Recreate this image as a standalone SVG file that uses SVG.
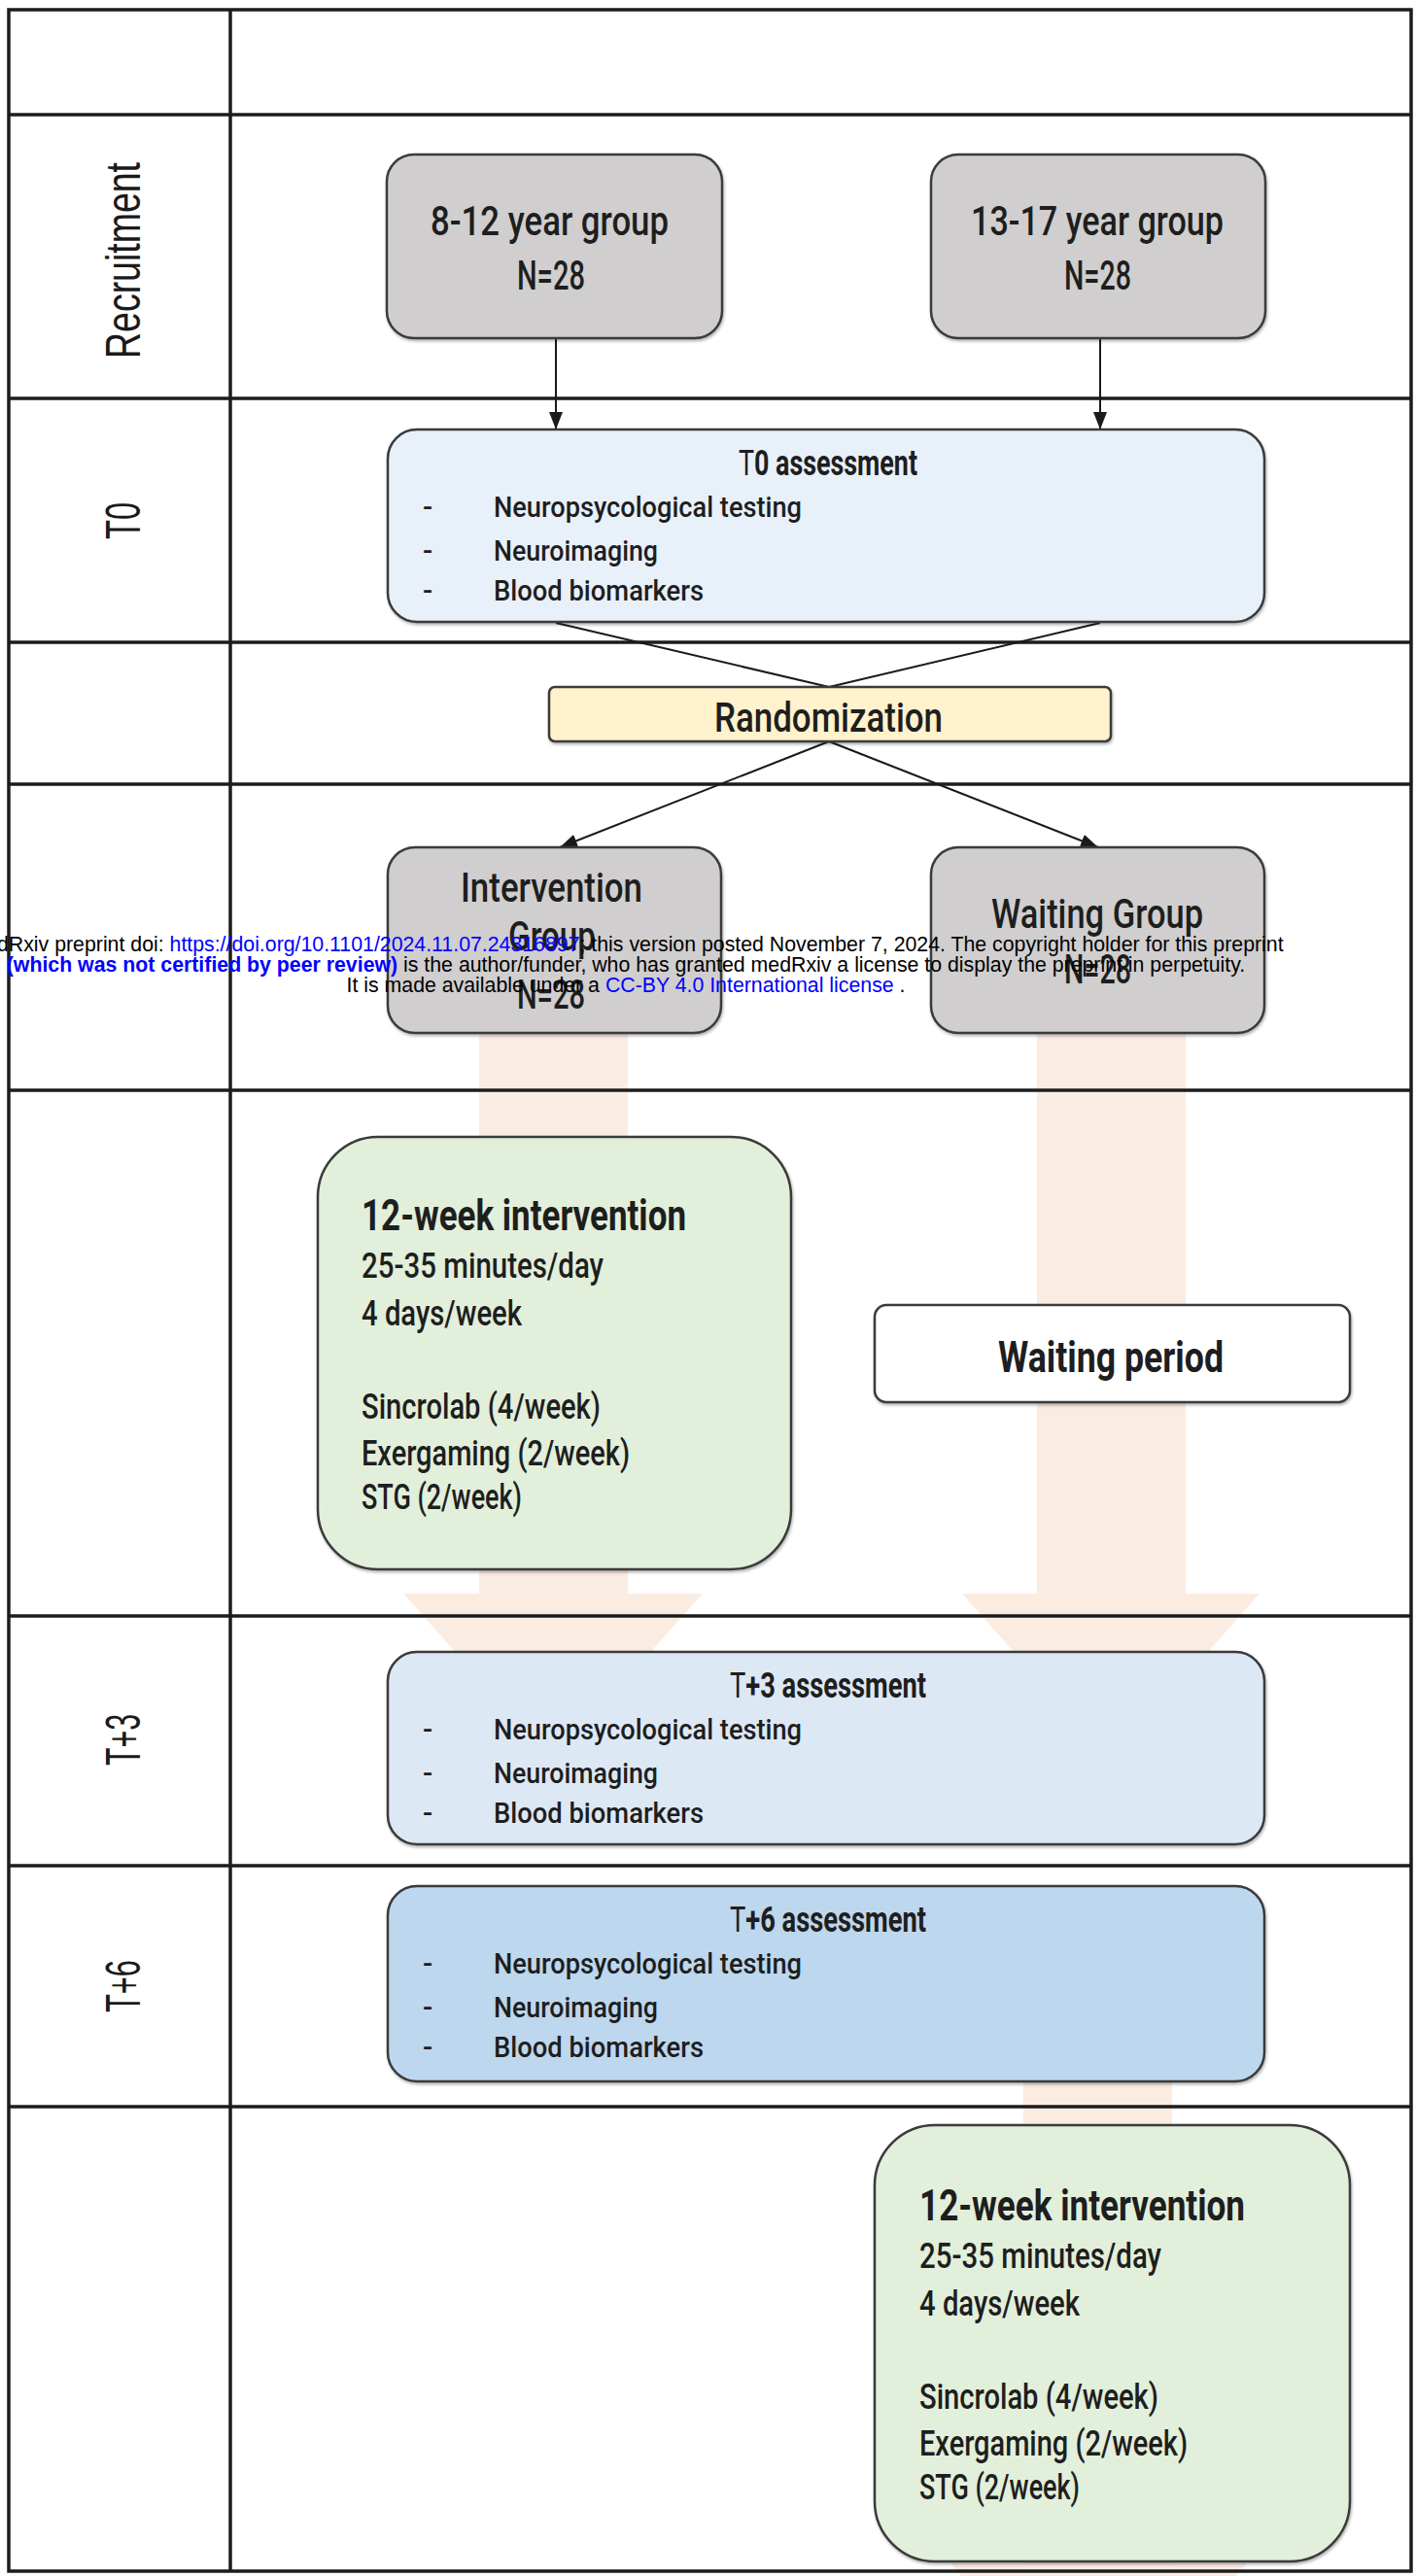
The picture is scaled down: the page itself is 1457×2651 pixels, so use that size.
<svg xmlns="http://www.w3.org/2000/svg" width="1457" height="2651" viewBox="0 0 1457 2651">
<style>
.box{stroke:#3a3a3a;stroke-width:2.5;filter:url(#sh)}
.gray{fill:#d0cece}
.t0{fill:#e8f0f9}
.t3{fill:#dde8f5}
.t6{fill:#bdd7ee}
.green{fill:#e2efda}
.yellow{fill:#fff2cc}
.white{fill:#ffffff}
.grid{stroke:#1c1c1c;stroke-width:3.5;fill:none}
.conn{stroke:#1a1a1a;stroke-width:2;fill:none}
.peach{fill:#fbece2}
text{font-family:Roboto,"Liberation Sans",sans-serif;fill:#1e1e1e;font-weight:500}
.lane{font-family:"Liberation Sans Narrow","Liberation Sans",Arial,sans-serif;font-size:50px;fill:#1a1a1a;font-weight:normal}
.g42{font-size:42px}
.tt{font-size:36px;font-weight:bold}
.bl{font-size:30px}
.gt{font-size:44px;font-weight:bold}
.gl{font-size:36px}
.wm{font-family:"Liberation Sans",Arial,sans-serif;font-size:21.3px;fill:#000000;font-weight:normal}
.lnk{fill:#0000ff}
</style>
<defs>
<filter id="sh" x="-5%" y="-5%" width="110%" height="115%">
<feDropShadow dx="1" dy="2" stdDeviation="1.5" flood-color="#000000" flood-opacity="0.3"/>
</filter>
<marker id="arr" viewBox="0 0 18 14" refX="18" refY="7" markerWidth="18" markerHeight="14" markerUnits="userSpaceOnUse" orient="auto">
<path d="M0,0 L18,7 L0,14 z" fill="#1a1a1a"/>
</marker>
</defs>
<rect x="0" y="0" width="1457" height="2651" fill="#ffffff"/>

<g id="flow-arrows">
<polygon class="peach" points="493,1000 646,1000 646,1640 723,1640 569,1813 415,1640 493,1640"/>
<polygon class="peach" points="1067,1000 1220,1000 1220,1640 1296,1640 1143,1813 990,1640 1067,1640"/>
<polygon class="peach" points="1053,2100 1206,2100 1206,2638 1283,2638 1130,2811 978,2638 1053,2638"/>
</g>

<g id="grid">
<rect class="grid" x="9" y="10" width="1443" height="2636" stroke-width="7"/>
<line class="grid" x1="237" y1="10" x2="237" y2="2646" stroke-width="6"/>
<line class="grid" x1="9" y1="118" x2="1452" y2="118"/>
<line class="grid" x1="9" y1="410" x2="1452" y2="410"/>
<line class="grid" x1="9" y1="661" x2="1452" y2="661"/>
<line class="grid" x1="9" y1="807" x2="1452" y2="807"/>
<line class="grid" x1="9" y1="1122" x2="1452" y2="1122"/>
<line class="grid" x1="9" y1="1663" x2="1452" y2="1663"/>
<line class="grid" x1="9" y1="1920" x2="1452" y2="1920"/>
<line class="grid" x1="9" y1="2168" x2="1452" y2="2168"/>
</g>

<g id="lane-labels">
<text class="lane" transform="translate(144,268) rotate(-90)" x="-101" y="0" textLength="202" lengthAdjust="spacingAndGlyphs">Recruitment</text>
<text class="lane" transform="translate(144,536) rotate(-90)" x="-19" y="0" textLength="38" lengthAdjust="spacingAndGlyphs">T0</text>
<text class="lane" transform="translate(144,1791) rotate(-90)" x="-26" y="0" textLength="53" lengthAdjust="spacingAndGlyphs">T+3</text>
<text class="lane" transform="translate(144,2044) rotate(-90)" x="-27" y="0" textLength="54" lengthAdjust="spacingAndGlyphs">T+6</text>
</g>

<g id="connectors">
<line class="conn" x1="572" y1="348" x2="572" y2="442" marker-end="url(#arr)"/>
<line class="conn" x1="1132" y1="348" x2="1132" y2="442" marker-end="url(#arr)"/>
<line class="conn" x1="572" y1="641" x2="853" y2="707"/>
<line class="conn" x1="1132" y1="641" x2="853" y2="707"/>
<line class="conn" x1="853" y1="763" x2="576" y2="872" marker-end="url(#arr)"/>
<line class="conn" x1="853" y1="763" x2="1130" y2="872" marker-end="url(#arr)"/>
</g>

<g id="group-8-12">
<rect class="box gray" x="398" y="159" width="345" height="189" rx="28"/>
<text class="g42" x="443" y="242" textLength="245" lengthAdjust="spacingAndGlyphs">8-12 year group</text>
<text class="g42" x="532" y="298" textLength="70" lengthAdjust="spacingAndGlyphs">N=28</text>
</g>

<g id="group-13-17">
<rect class="box gray" x="958" y="159" width="344" height="189" rx="28"/>
<text class="g42" x="999" y="242" textLength="260" lengthAdjust="spacingAndGlyphs">13-17 year group</text>
<text class="g42" x="1095" y="298" textLength="69" lengthAdjust="spacingAndGlyphs">N=28</text>
</g>

<g id="t0-assessment">
<rect class="box t0" x="399" y="442" width="902" height="198" rx="30"/>
<text class="tt" x="760" y="489" textLength="184" lengthAdjust="spacingAndGlyphs"><tspan font-weight="normal">T</tspan>0 assessment</text>
<text class="bl" x="435" y="532">-</text>
<text class="bl" x="435" y="577">-</text>
<text class="bl" x="435" y="618">-</text>
<text class="bl" x="508" y="532" textLength="317" lengthAdjust="spacingAndGlyphs">Neuropsycological testing</text>
<text class="bl" x="508" y="577" textLength="169" lengthAdjust="spacingAndGlyphs">Neuroimaging</text>
<text class="bl" x="508" y="618" textLength="216" lengthAdjust="spacingAndGlyphs">Blood biomarkers</text>
</g>

<g id="randomization">
<rect class="box yellow" x="565" y="707" width="578" height="56" rx="6"/>
<text class="g42" x="735" y="753" textLength="235" lengthAdjust="spacingAndGlyphs">Randomization</text>
</g>

<g id="intervention-group">
<rect class="box gray" x="399" y="872" width="343" height="191" rx="28"/>
<text class="g42" x="474" y="928" textLength="187" lengthAdjust="spacingAndGlyphs">Intervention</text>
<text class="g42" x="523" y="978" textLength="90" lengthAdjust="spacingAndGlyphs">Group</text>
<text class="g42" x="532" y="1038" textLength="70" lengthAdjust="spacingAndGlyphs">N=28</text>
</g>

<g id="waiting-group">
<rect class="box gray" x="958" y="872" width="343" height="191" rx="28"/>
<text class="g42" x="1020" y="955" textLength="218" lengthAdjust="spacingAndGlyphs">Waiting Group</text>
<text class="g42" x="1095" y="1012" textLength="69" lengthAdjust="spacingAndGlyphs">N=28</text>
</g>

<g id="intervention-12w-a">
<rect class="box green" x="327" y="1170" width="487" height="445" rx="62"/>
<text class="gt" x="372" y="1266" textLength="334" lengthAdjust="spacingAndGlyphs">12-week intervention</text>
<text class="gl" x="372" y="1315" textLength="249" lengthAdjust="spacingAndGlyphs">25-35 minutes/day</text>
<text class="gl" x="372" y="1364" textLength="165" lengthAdjust="spacingAndGlyphs">4 days/week</text>
<text class="gl" x="372" y="1460" textLength="246" lengthAdjust="spacingAndGlyphs">Sincrolab (4/week)</text>
<text class="gl" x="372" y="1508" textLength="276" lengthAdjust="spacingAndGlyphs">Exergaming (2/week)</text>
<text class="gl" x="372" y="1553" textLength="165" lengthAdjust="spacingAndGlyphs">STG (2/week)</text>
</g>

<g id="waiting-period">
<rect class="box white" x="900" y="1343" width="489" height="100" rx="12"/>
<text class="gt" x="1027" y="1412" textLength="232" lengthAdjust="spacingAndGlyphs">Waiting period</text>
</g>

<g id="t3-assessment">
<rect class="box t3" x="399" y="1700" width="902" height="198" rx="30"/>
<text class="tt" x="751" y="1747" textLength="202" lengthAdjust="spacingAndGlyphs"><tspan font-weight="normal">T</tspan>+3 assessment</text>
<text class="bl" x="435" y="1790">-</text>
<text class="bl" x="435" y="1835">-</text>
<text class="bl" x="435" y="1876">-</text>
<text class="bl" x="508" y="1790" textLength="317" lengthAdjust="spacingAndGlyphs">Neuropsycological testing</text>
<text class="bl" x="508" y="1835" textLength="169" lengthAdjust="spacingAndGlyphs">Neuroimaging</text>
<text class="bl" x="508" y="1876" textLength="216" lengthAdjust="spacingAndGlyphs">Blood biomarkers</text>
</g>

<g id="t6-assessment">
<rect class="box t6" x="399" y="1941" width="902" height="201" rx="30"/>
<text class="tt" x="751" y="1988" textLength="202" lengthAdjust="spacingAndGlyphs"><tspan font-weight="normal">T</tspan>+6 assessment</text>
<text class="bl" x="435" y="2031">-</text>
<text class="bl" x="435" y="2076">-</text>
<text class="bl" x="435" y="2117">-</text>
<text class="bl" x="508" y="2031" textLength="317" lengthAdjust="spacingAndGlyphs">Neuropsycological testing</text>
<text class="bl" x="508" y="2076" textLength="169" lengthAdjust="spacingAndGlyphs">Neuroimaging</text>
<text class="bl" x="508" y="2117" textLength="216" lengthAdjust="spacingAndGlyphs">Blood biomarkers</text>
</g>

<g id="intervention-12w-b">
<rect class="box green" x="900" y="2187" width="489" height="449" rx="62"/>
<text class="gt" x="946" y="2285" textLength="335" lengthAdjust="spacingAndGlyphs">12-week intervention</text>
<text class="gl" x="946" y="2334" textLength="249" lengthAdjust="spacingAndGlyphs">25-35 minutes/day</text>
<text class="gl" x="946" y="2383" textLength="165" lengthAdjust="spacingAndGlyphs">4 days/week</text>
<text class="gl" x="946" y="2479" textLength="246" lengthAdjust="spacingAndGlyphs">Sincrolab (4/week)</text>
<text class="gl" x="946" y="2527" textLength="276" lengthAdjust="spacingAndGlyphs">Exergaming (2/week)</text>
<text class="gl" x="946" y="2572" textLength="165" lengthAdjust="spacingAndGlyphs">STG (2/week)</text>
</g>

<g id="watermark">
<text class="wm" x="644" y="979" text-anchor="middle">medRxiv preprint doi: <tspan class="lnk">https://doi.org/10.1101/2024.11.07.24316897</tspan>; this version posted November 7, 2024. The copyright holder for this preprint</text>
<text class="wm" x="644" y="1000" text-anchor="middle"><tspan class="lnk" font-weight="bold">(which was not certified by peer review)</tspan> is the author/funder, who has granted medRxiv a license to display the preprint in perpetuity.</text>
<text class="wm" x="644" y="1021" text-anchor="middle">It is made available under a <tspan class="lnk">CC-BY 4.0 International license</tspan> .</text>
</g>
</svg>
